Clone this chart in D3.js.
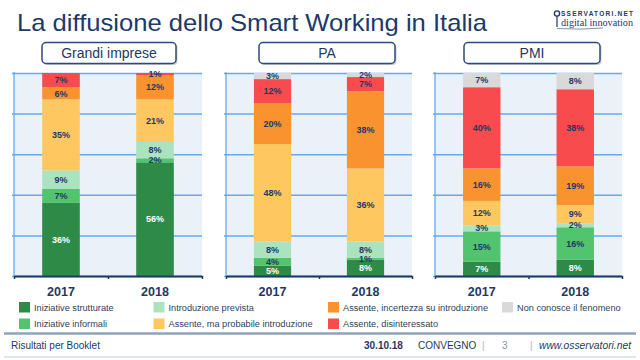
<!DOCTYPE html>
<html><head><meta charset="utf-8">
<script src="https://cdn.jsdelivr.net/npm/d3@7"></script>
<style>html,body{margin:0;padding:0;background:#fff}svg{display:block}</style>
</head><body>
<svg id="c" width="640" height="360"></svg>
<script>
// ---- data ----
const years = ["2017", "2018"];
const panels = ["Grandi imprese", "PA", "PMI"];
const seriesNames = ["Iniziative strutturate", "Iniziative informali", "Introduzione prevista",
  "Assente, ma probabile introduzione", "Assente, incertezza su introduzione",
  "Assente, disinteressato", "Non conosce il fenomeno"];
// values per series, per panel: [2017, 2018]
const grandiValues = [[36, 56], [7, 2], [9, 8], [35, 21], [6, 12], [7, 1], [0, 0]];
const paValues = [[5, 8], [4, 1], [8, 8], [48, 36], [20, 38], [12, 7], [3, 2]];
const pmiValues = [[7, 8], [15, 16], [3, 2], [12, 9], [16, 19], [40, 38], [7, 8]];
const yTicks = [0, 20, 40, 60, 80, 100];
const legendOrder = [0, 1, 2, 3, 4, 5, 6];

const panelValues = [grandiValues, paValues, pmiValues];
const colors = ["#2e8a47", "#52c46d", "#abe3bf", "#fec760", "#f8932f", "#f74b4e", "#d9d9d9"];
const navy = "#1f3864";
const FONT = "'Liberation Sans', Arial, sans-serif";

const svg = d3.select("#c");

// title
svg.append("text").attr("x", 17).attr("y", 31)
  .attr("font-family", FONT).attr("font-size", 24).attr("fill", "#1b3a6b")
  .attr("textLength", 470).attr("lengthAdjust", "spacingAndGlyphs")
  .text("La diffusione dello Smart Working in Italia");

// logo
const logo = svg.append("g");
logo.append("circle").attr("cx", 557).attr("cy", 13.5).attr("r", 2.6)
  .attr("fill", "none").attr("stroke", navy).attr("stroke-width", 1.4);
logo.append("line").attr("x1", 557).attr("x2", 557).attr("y1", 16).attr("y2", 27)
  .attr("stroke", navy).attr("stroke-width", 1.2);
logo.append("text").attr("x", 561).attr("y", 16).attr("font-family", FONT)
  .attr("font-size", 6.5).attr("font-weight", "bold").attr("fill", navy)
  .attr("textLength", 72).attr("lengthAdjust", "spacing").text("SSERVATORI.NET");
logo.append("text").attr("x", 561).attr("y", 25.5).attr("font-family", "'Liberation Serif', 'DejaVu Serif', serif")
  .attr("font-size", 9.5).attr("fill", navy)
  .attr("textLength", 72).attr("lengthAdjust", "spacingAndGlyphs").text("digital innovation");
logo.append("path").attr("d", "M557,28.5 Q580,30 603,28").attr("fill", "none")
  .attr("stroke", "#7f93b0").attr("stroke-width", 1);

// panel title boxes
const boxes = [[42, 176], [259, 395], [464, 600]];
boxes.forEach((b, i) => {
  svg.append("rect").attr("x", b[0] + 1.5).attr("y", 44).attr("width", b[1] - b[0]).attr("height", 21)
    .attr("rx", 4).attr("fill", "#c9cdd3");
  svg.append("rect").attr("x", b[0]).attr("y", 42.5).attr("width", b[1] - b[0]).attr("height", 21)
    .attr("rx", 4).attr("fill", "#fff").attr("stroke", "#2c4a7c").attr("stroke-width", 1.5);
  svg.append("text").attr("x", (b[0] + b[1]) / 2).attr("y", 58).attr("text-anchor", "middle")
    .attr("font-family", FONT).attr("font-size", 14).attr("fill", navy).text(panels[i]);
});

// panels
const ranges = [[14, 202], [226, 412], [435, 622]];
const yTop = 73, yBot = 276;
const y = d3.scaleLinear().domain([0, 100]).range([yBot, yTop]);

ranges.forEach((r, pi) => {
  const g = svg.append("g");
  const x = d3.scaleBand().domain(years).range(r).paddingInner(0.6).paddingOuter(0.3);
  const w = r[1] - r[0];
  g.append("rect").attr("x", r[0]).attr("y", yTop).attr("width", w).attr("height", yBot - yTop)
    .attr("fill", "#eaf1f8");
  // gridlines
  const grid = g.append("g").attr("transform", `translate(${r[0]},0)`)
    .call(d3.axisLeft(y).tickValues(yTicks).tickSize(-w).tickSizeOuter(0).tickFormat(""));
  grid.select(".domain").remove();
  grid.selectAll(".tick line").attr("stroke", "#62aaf2").attr("stroke-width", 1.5)
    .attr("x1", -2);
  g.append("line").attr("x1", r[0]).attr("x2", r[0]).attr("y1", yTop - 1).attr("y2", yBot)
    .attr("stroke", "#62aaf2").attr("stroke-width", 1.3);

  // stacks
  const vals = panelValues[pi];
  years.forEach((yr, yi) => {
    let cum = 0;
    vals.forEach((sv, si) => {
      const v = sv[yi];
      if (v <= 0) { return; }
      const y0 = cum, y1 = cum + v;
      cum = y1;
      g.append("rect").attr("x", x(yr)).attr("width", x.bandwidth())
        .attr("y", y(y1)).attr("height", y(y0) - y(y1)).attr("fill", colors[si]);
    });
    cum = 0;
    vals.forEach((sv, si) => {
      const v = sv[yi];
      if (v <= 0) { return; }
      const y0 = cum, y1 = cum + v;
      cum = y1;
      g.append("text").attr("x", x(yr) + x.bandwidth() / 2).attr("y", (y(y0) + y(y1)) / 2 + 3.2)
        .attr("text-anchor", "middle").attr("font-family", FONT).attr("font-size", 9)
        .attr("font-weight", "bold").attr("fill", si === 0 ? "#fff" : navy).text(v + "%");
    });
    g.append("text").attr("x", x(yr) + x.bandwidth() / 2).attr("y", 295.5)
      .attr("text-anchor", "middle").attr("font-family", FONT).attr("font-size", 12.5)
      .attr("font-weight", "bold").attr("fill", navy).text(yr);
  });

  // bottom axis
  const xl = d3.scaleLinear().domain([0, 2]).range(r);
  const ax = g.append("g").attr("transform", `translate(0,${yBot})`)
    .call(d3.axisBottom(xl).tickValues([0, 1, 2]).tickSize(3).tickSizeOuter(0).tickFormat(""));
  ax.select(".domain").attr("stroke", navy).attr("stroke-width", 1.8);
  ax.selectAll(".tick line").attr("stroke", navy).attr("stroke-width", 1.5);
});

// legend
const legPos = [[19, 302], [19, 318.5], [153.5, 302], [153.5, 318.5], [328, 302], [328, 318.5], [502, 302]];
legendOrder.forEach((si, k) => {
  const p = legPos[k];
  svg.append("rect").attr("x", p[0]).attr("y", p[1]).attr("width", 11).attr("height", 10.5)
    .attr("fill", colors[si]);
  svg.append("text").attr("x", p[0] + 15).attr("y", p[1] + 8.5).attr("font-family", FONT)
    .attr("font-size", 9.2).attr("fill", "#2d3f5e").text(seriesNames[si]);
});

// footer
svg.append("line").attr("x1", 4).attr("x2", 636).attr("y1", 333.5).attr("y2", 333.5)
  .attr("stroke", "#8fa3bb").attr("stroke-width", 2.5);
svg.append("line").attr("x1", 4).attr("x2", 636).attr("y1", 357).attr("y2", 357)
  .attr("stroke", "#c3ccd6").attr("stroke-width", 1);
const ft = (x, t, opts) => {
  const e = svg.append("text").attr("x", x).attr("y", 349).attr("font-family", FONT)
    .attr("font-size", 10).attr("fill", navy).text(t);
  if (opts) Object.entries(opts).forEach(([k, v]) => e.attr(k, v));
  return e;
};
ft(11, "Risultati per Booklet");
ft(364, "30.10.18", {"font-weight": "bold"});
ft(418, "CONVEGNO");
ft(482, "|", {"fill": "#b0b8c4"});
ft(502, "3", {"fill": "#8a94a3"});
ft(530, "|", {"fill": "#b0b8c4"});
ft(539, "www.osservatori.net", {"font-style": "italic", "textLength": 92, "lengthAdjust": "spacingAndGlyphs"});
</script>
</body></html>
